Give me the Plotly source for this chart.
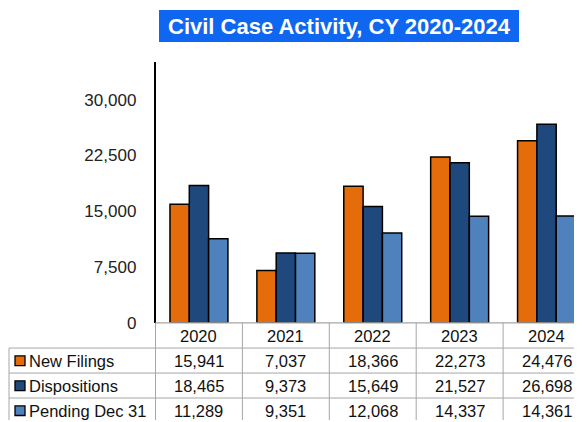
import plotly.graph_objects as go

years = ["2020", "2021", "2022", "2023", "2024"]
new_filings = [15941, 7037, 18366, 22273, 24476]
dispositions = [18465, 9373, 15649, 21527, 26698]
pending = [11289, 9351, 12068, 14337, 14361]
series_names = ["New Filings", "Dispositions", "Pending Dec 31"]
series_colors = ["#E46C0A", "#1F497D", "#4F81BD"]
y_ticks = [0, 7500, 15000, 22500, 30000]
chart_title = "Civil Case Activity, CY 2020-2024"

W, H = 582, 422
OFFX, OFFY, SY = 8, 8, 0.977
FONT = "Liberation Sans, Arial, sans-serif"


def fx(x):
    return (x - OFFX) / W


def fy(y):
    return (H - (y - OFFY) / SY) / H


plot_left = 155.5
plot_top = 62.5
plot_bottom = 323.0
cat_w = (W + OFFX - plot_left) / 5.0

fig = go.Figure()
all_series = [new_filings, dispositions, pending]
for name, vals, col in zip(series_names, all_series, series_colors):
    fig.add_trace(go.Bar(
        x=list(range(len(years))), y=vals, name=name,
        marker=dict(color=col, line=dict(color="#000000", width=1.5)),
        showlegend=False, hoverinfo="skip",
    ))

shapes = []
annotations = []

# title box
shapes.append(dict(type="rect", xref="paper", yref="paper",
                   x0=fx(159), x1=fx(519), y0=fy(42), y1=fy(10),
                   fillcolor="#0F66F0", line=dict(width=0), layer="above"))
annotations.append(dict(text="<b>" + chart_title + "</b>", xref="paper", yref="paper",
                        x=fx(339), y=fy(26.5), xanchor="center", yanchor="middle",
                        showarrow=False, font=dict(family=FONT, size=22, color="white")))

grid = "#A6A6A6"
# table horizontal lines
for yy in [348.3, 373.3, 398.3]:
    shapes.append(dict(type="line", xref="paper", yref="paper",
                       x0=fx(9), x1=1, y0=fy(yy), y1=fy(yy), line=dict(color=grid, width=1)))
# baseline / header top
shapes.append(dict(type="line", xref="paper", yref="paper",
                   x0=fx(plot_left), x1=1, y0=fy(plot_bottom), y1=fy(plot_bottom),
                   line=dict(color=grid, width=1.2)))
# left border of label column
shapes.append(dict(type="line", xref="paper", yref="paper",
                   x0=fx(9), x1=fx(9), y0=fy(348.3), y1=0, line=dict(color=grid, width=1)))
# vertical dividers
for i in range(len(years)):
    xx = plot_left + i * cat_w
    shapes.append(dict(type="line", xref="paper", yref="paper",
                       x0=fx(xx), x1=fx(xx), y0=fy(plot_bottom), y1=0,
                       line=dict(color=grid, width=1)))

TXT = 16.5
# header years
for i, yr in enumerate(years):
    annotations.append(dict(text=yr, xref="x", yref="paper", x=i, y=fy(336),
                            xanchor="center", yanchor="middle", showarrow=False,
                            font=dict(family=FONT, size=TXT, color="#111111")))

row_centers = [361, 386, 411]
for r, (name, vals, col) in enumerate(zip(series_names, all_series, series_colors)):
    yc = row_centers[r]
    shapes.append(dict(type="rect", xref="paper", yref="paper",
                       x0=fx(15), x1=fx(25), y0=fy(yc + 4.8), y1=fy(yc - 4.8),
                       fillcolor=col, line=dict(color="#000000", width=1.3)))
    annotations.append(dict(text=name, xref="paper", yref="paper", x=fx(26.5), y=fy(yc),
                            xanchor="left", yanchor="middle", showarrow=False,
                            font=dict(family=FONT, size=TXT, color="#111111")))
    for i, v in enumerate(vals):
        annotations.append(dict(text=f"{v:,}", xref="x", yref="paper", x=i, y=fy(yc),
                                xanchor="center", yanchor="middle", showarrow=False,
                                font=dict(family=FONT, size=TXT, color="#111111")))

fig.update_layout(
    width=W, height=H,
    margin=dict(l=0, r=0, t=0, b=0),
    paper_bgcolor="white", plot_bgcolor="white",
    barmode="group", bargap=0.333, bargroupgap=0,
    font=dict(family=FONT, size=16, color="#222222"),
    shapes=shapes, annotations=annotations,
    xaxis=dict(domain=[fx(plot_left), 1], range=[-0.5, 4.5],
               showticklabels=False, showgrid=False, zeroline=False, showline=False,
               fixedrange=True),
    yaxis=dict(domain=[fy(plot_bottom), fy(plot_top)], range=[0, 35000],
               tickvals=y_ticks, ticktext=[f"{t:,}" for t in y_ticks],
               showgrid=False, zeroline=False, showline=True, linecolor="#000000",
               linewidth=1.5, ticks="", ticklabelstandoff=14,
               tickfont=dict(family=FONT, size=17, color="#222222"), fixedrange=True),
)

fig.write_html("out.html")
